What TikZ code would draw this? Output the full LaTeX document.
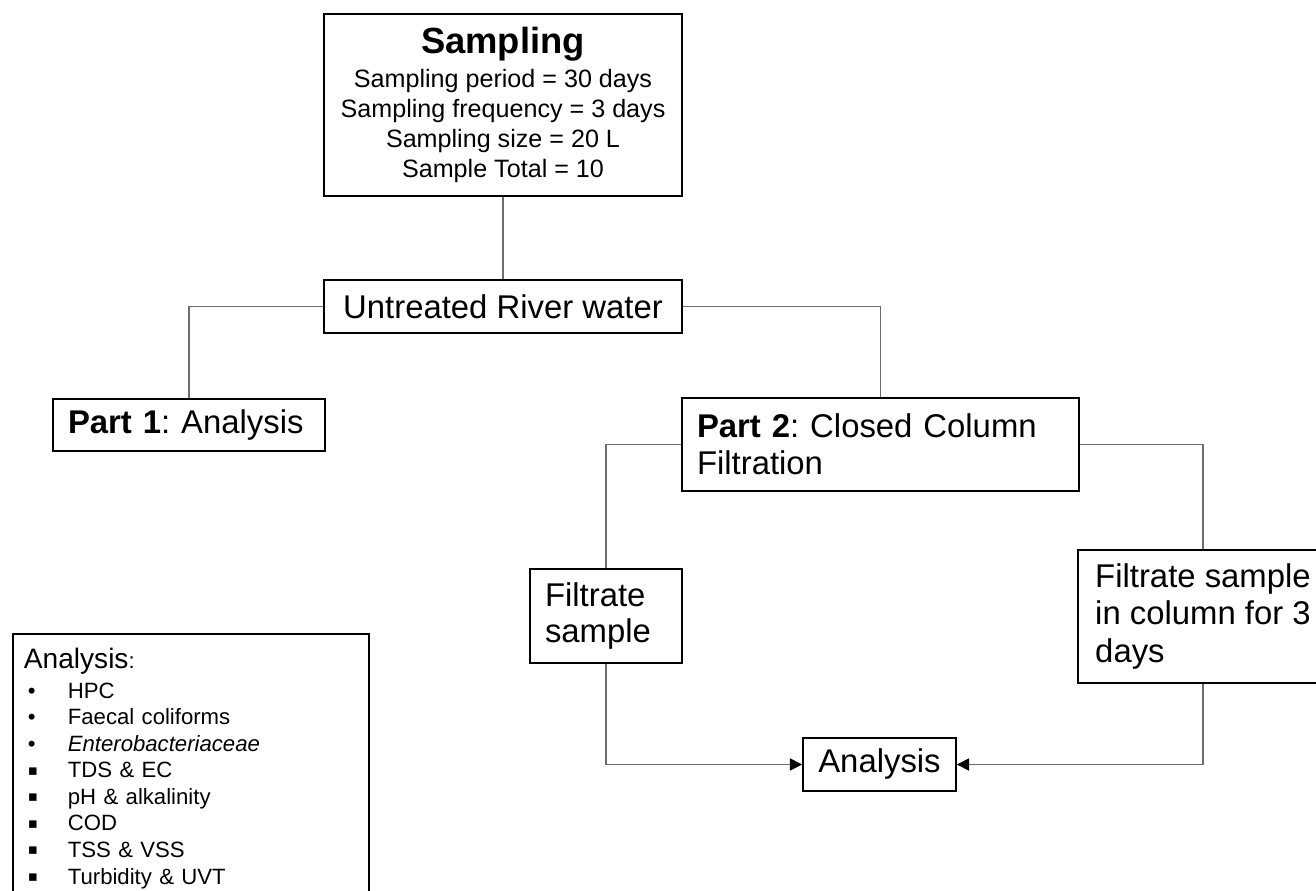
\documentclass[tikz,border=0pt]{standalone}
\usepackage{fontspec}
\setmainfont{Liberation Sans}
\newfontfamily\symfont{DejaVu Sans}
\usepackage{tikz}
\usetikzlibrary{arrows.meta}
\definecolor{linegray}{RGB}{110,110,110}
\frenchspacing
\newcommand{\roundbul}{\hspace*{0.08cm}\makebox[0.8cm][l]{•}}
\newcommand{\squarebul}{\hspace*{0.08cm}\makebox[0.8cm][l]{\raisebox{1.5pt}{\symfont\fontsize{8.5}{10}\selectfont ▪}}}

\begin{document}
\begin{tikzpicture}[
	box/.style={shape=rectangle,draw=black,line width=1pt,inner sep=0pt,
		font=\fontsize{18.7}{21}\selectfont},
	link/.style={draw=linegray,line width=0.6pt},
	linkarrow/.style={link,-{Triangle[length=7pt,width=7pt,color=black]}}]
	\useasboundingbox (0,0) rectangle (26.32,17.8);

	\node[box,minimum width=7.16cm,minimum height=3.64cm,align=center,
		font=\fontsize{14.3}{17.1}\selectfont] (samp) at (10.06,15.70)
		{{\fontsize{20.7}{24}\selectfont\textbf{Sampling}}\\[2pt]
		Sampling period = 30 days\\
		Sampling frequency = 3 days\\
		Sampling size = 20 L\\
		Sample Total = 10};
	\node[box,minimum width=7.16cm,minimum height=1.06cm] (river) at (10.06,11.67) {Untreated River water};
	\node[box,minimum height=1.04cm,align=left,text width=4.84cm,inner xsep=0.3cm] (part1) at (3.78,9.30)
		{\textbf{Part 1}: Analysis};
	\node[box,minimum height=1.86cm,align=left,text width=7.34cm,inner xsep=0.3cm] (part2) at (17.61,8.91)
		{\textbf{Part 2}: Closed Column\\Filtration};
	\node[box,minimum height=1.88cm,align=left,text width=2.44cm,inner xsep=0.3cm] (filt) at (12.12,5.48)
		{Filtrate\\sample};
	\node[box,minimum width=5.0cm,minimum height=2.66cm,align=left,
		font=\fontsize{18.7}{21.6}\selectfont] (filtcol) at (24.06,5.47)
		{Filtrate sample\\in column for 3\\days};
	\node[box,minimum width=3.06cm,minimum height=1.06cm] (ana) at (17.59,2.51) {Analysis};

	\node[box,anchor=north west,align=left,text width=6.68cm,inner xsep=0.22cm,inner ysep=0.28cm,
		font=\fontsize{12.6}{15.1}\selectfont] (list) at (0.24,5.14)
		{{\fontsize{16}{19}\selectfont Analysis}:\\[2pt]
		\roundbul HPC\\
		\roundbul Faecal coliforms\\
		\roundbul \textit{Enterobacteriaceae}\\
		\squarebul TDS \& EC\\
		\squarebul pH \& alkalinity\\
		\squarebul COD\\
		\squarebul TSS \& VSS\\
		\squarebul Turbidity \& UVT\rule[-1.5cm]{0pt}{0pt}};

	\draw[link] (samp.south) -- (river.north);
	\draw[link] (river.west) -| (part1.north);
	\draw[link] (river.east) -| (part2.north);
	\draw[link] (part2.west) -| (filt.north);
	\draw[link] (part2.east) -| (filtcol.north);
	\draw[linkarrow] (filt.south) |- (ana.west);
	\draw[linkarrow] (filtcol.south) |- (ana.east);
\end{tikzpicture}
\end{document}
